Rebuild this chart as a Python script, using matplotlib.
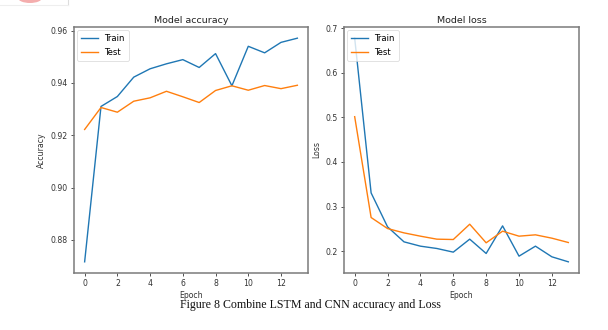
import matplotlib
matplotlib.use("Agg")
import matplotlib.pyplot as plt
from matplotlib.patches import Ellipse

epochs = list(range(14))
acc_train = [0.8716, 0.9310, 0.9348, 0.9422, 0.9454, 0.9473, 0.9489, 0.9459,
             0.9512, 0.9389, 0.9540, 0.9515, 0.9555, 0.9571]
acc_test = [0.9222, 0.9306, 0.9288, 0.9330, 0.9343, 0.9368, 0.9347, 0.9325,
            0.9371, 0.9389, 0.9372, 0.9390, 0.9378, 0.9391]
loss_train = [0.6775, 0.3306, 0.2545, 0.2209, 0.2112, 0.2060, 0.1978, 0.2269,
              0.1948, 0.2567, 0.1888, 0.2112, 0.1873, 0.1761]
loss_test = [0.5015, 0.2754, 0.2507, 0.2410, 0.2336, 0.2269, 0.2261, 0.2604,
             0.2187, 0.2448, 0.2336, 0.2366, 0.2291, 0.2194]
legend_labels = ["Train", "Test"]
caption = "Figure 8 Combine LSTM and CNN accuracy and Loss"

W, H = 608, 330
fig = plt.figure(figsize=(W / 100, H / 100), dpi=100)
fig.patch.set_facecolor("white")

fs_tick = 5.6
fs_title = 6.8
lw = 1.0

def setup(ax, title, ylabel):
    ax.set_title(title, fontsize=fs_title, pad=3, color="#222222")
    ax.set_xlabel("Epoch", fontsize=fs_tick, labelpad=2, color="#333333")
    ax.set_ylabel(ylabel, fontsize=fs_tick, labelpad=3, color="#333333")
    ax.tick_params(labelsize=fs_tick, length=2.5, width=0.6, pad=2, colors="#333333")
    for s in ax.spines.values():
        s.set_color("#7a7a7a")
        s.set_linewidth(1.1)
    ax.set_xticks([0, 2, 4, 6, 8, 10, 12])
    leg = ax.legend(legend_labels, loc="upper left", fontsize=6.1,
                    handlelength=2.0, borderpad=0.45, labelspacing=0.6,
                    framealpha=0.8, borderaxespad=0.35)
    leg.get_frame().set_linewidth(0.5)

ax1 = fig.add_axes([74 / W, 1 - 273 / H, 234 / W, 246 / H])
ax1.plot(epochs, acc_train, color="#1f77b4", lw=lw)
ax1.plot(epochs, acc_test, color="#ff7f0e", lw=lw)
ax1.set_yticks([0.88, 0.90, 0.92, 0.94, 0.96])
ax1.set_yticklabels(["0.88", "0.90", "0.92", "0.94", "0.96"])
setup(ax1, "Model accuracy", "Accuracy")

ax2 = fig.add_axes([344 / W, 1 - 273 / H, 235 / W, 246 / H])
ax2.plot(epochs, loss_train, color="#1f77b4", lw=lw)
ax2.plot(epochs, loss_test, color="#ff7f0e", lw=lw)
ax2.set_yticks([0.2, 0.3, 0.4, 0.5, 0.6, 0.7])
setup(ax2, "Model loss", "Loss")

fig.text(310 / W, 1 - 305 / H, caption, ha="center", va="center",
         fontsize=8.6, family=["Liberation Serif", "DejaVu Serif"], color="#111111")

# fragment of a logo / box at top-left
fig.add_artist(Ellipse((30 / W, 1 + 2 / H), 24 / W, 10 / H, transform=fig.transFigure,
                       facecolor="#f08a8a", edgecolor="none", alpha=0.7))
fig.add_artist(plt.Line2D([68 / W, 68 / W], [1, 1 - 5 / H], transform=fig.transFigure,
                          color="#dddddd", lw=0.8))
fig.add_artist(plt.Line2D([0, 68 / W], [1 - 5 / H, 1 - 5 / H], transform=fig.transFigure,
                          color="#eeeeee", lw=0.8))

fig.savefig("out.png", dpi=100)
